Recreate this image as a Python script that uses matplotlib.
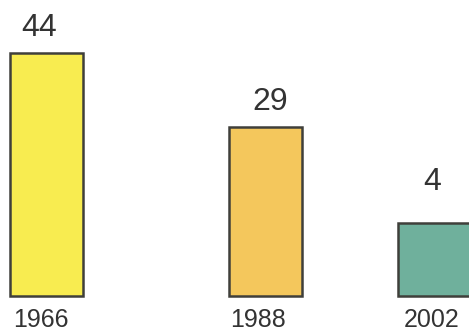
import matplotlib.pyplot as plt

# data
years = ["1966", "1988", "2002"]
values = [44, 29, 4]
# drawn bar heights as they appear in the picture (bars are not to scale)
bar_heights = [243, 169, 73]
colors = ["#f8ec50", "#f4c75c", "#6fb09c"]

# layout (pixel-like units)
x_pos = [46.5, 265, 434]
bar_w = 73
label_dx = [-7, 5, -2]
label_y = [268, 194, 114]
year_dx = [-6, -7, -2]

fig = plt.figure(figsize=(4.69, 3.32), dpi=100)
ax = fig.add_axes([0, 0, 1, 1])
ax.set_xlim(0, 469)
ax.set_ylim(-36, 296)
ax.axis("off")

ax.bar(x_pos, bar_heights, width=bar_w, color=colors, edgecolor="#3f3f3a", linewidth=1.8)

for i in range(len(values)):
    ax.text(x_pos[i] + label_dx[i], label_y[i], str(values[i]), ha="center", va="center",
            fontsize=23, color="#333333", family="Liberation Sans")
    ax.text(x_pos[i] + year_dx[i], -24, years[i], ha="center", va="center",
            fontsize=18, color="#333333", family="Liberation Sans")

fig.savefig("out.png", dpi=100)
